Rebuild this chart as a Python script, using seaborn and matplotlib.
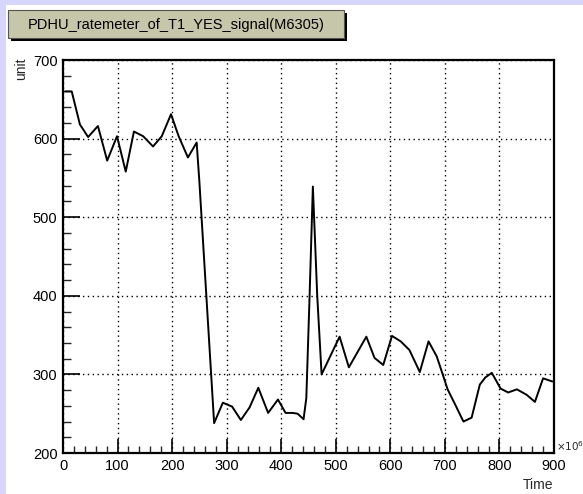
import matplotlib
matplotlib.use("Agg")
import matplotlib.pyplot as plt
from matplotlib.patches import Rectangle
from matplotlib.ticker import MultipleLocator
import seaborn as sns
import pandas as pd

# Rate-meter readings: time (x10^6) and counts (unit)
time_vals = [4, 16, 31, 46, 64, 81, 99, 115, 130, 147, 165, 181, 198, 212, 229,
             245, 250, 277, 293, 310, 326, 342, 358, 376, 394, 408, 421, 430,
             441, 446, 452, 458, 466, 474, 507, 524, 556, 571, 587, 603, 619,
             635, 654, 670, 685, 696, 705, 720, 734, 749, 764, 774, 786, 802,
             816, 832, 850, 865, 880, 897]
rate_vals = [660, 660, 618, 602, 616, 572, 603, 558, 609, 603, 590, 603, 631, 603, 576,
             595, 545, 238, 264, 259, 242, 258, 283, 251, 268, 251, 251, 250,
             243, 270, 400, 539, 400, 300, 348, 309, 348, 321, 312, 349, 342,
             331, 303, 342, 323, 300, 281, 260, 240, 245, 287, 296, 302, 282,
             277, 281, 274, 265, 295, 291]

title_text = "PDHU_ratemeter_of_T1_YES_signal(M6305)"
x_label = "Time"
y_label = "unit"
x_ticks = [0, 100, 200, 300, 400, 500, 600, 700, 800, 900]
y_ticks = [200, 300, 400, 500, 600, 700]

df = pd.DataFrame({"time": time_vals, "rate": rate_vals})

sns.set_style("ticks")
plt.rcParams["font.family"] = ["Liberation Sans", "DejaVu Sans"]

W, H = 583, 494
fig = plt.figure(figsize=(W / 100, H / 100), dpi=100)
fig.patch.set_facecolor("#d6d6fa")

def px(x0, y0, w, h):
    """Convert a pixel box (top-left origin) to figure fractions."""
    return (x0 / W, 1 - (y0 + h) / H, w / W, h / H)

# white canvas pad
fig.add_artist(Rectangle((6 / W, 0), (W - 6) / W, (H - 5) / H,
                         transform=fig.transFigure, facecolor="white",
                         edgecolor="none", zorder=0))

# title box with drop shadow
bx, by, bw, bh = 8, 10, 336, 28
sx, sy, _, _ = px(bx + 3, by + 3, bw, bh)
fig.add_artist(Rectangle((sx, sy), bw / W, bh / H, transform=fig.transFigure,
                         facecolor="black", edgecolor="none", zorder=1))
tx, ty, _, _ = px(bx, by, bw, bh)
fig.add_artist(Rectangle((tx, ty), bw / W, bh / H, transform=fig.transFigure,
                         facecolor="#c6c6aa", edgecolor="#555555", linewidth=0.8,
                         zorder=2))
fig.text((bx + bw / 2) / W, 1 - (by + bh / 2 + 1) / H, title_text,
         ha="center", va="center", fontsize=10.5, color="black", zorder=3)

# plotting frame
ax_l, ax_r, ax_t, ax_b = 63, 554, 60, 453
ax = fig.add_axes([ax_l / W, 1 - ax_b / H, (ax_r - ax_l) / W, (ax_b - ax_t) / H])
ax.set_facecolor("white")

sns.lineplot(data=df, x="time", y="rate", ax=ax, color="black", linewidth=1.4,
             sort=False, estimator=None)

ax.set_xlim(0, 900)
ax.set_ylim(200, 700)
ax.set_xticks(x_ticks)
ax.set_yticks(y_ticks)
ax.xaxis.set_minor_locator(MultipleLocator(20))
ax.yaxis.set_minor_locator(MultipleLocator(20))
ax.tick_params(axis="both", which="major", direction="in", length=12, width=1.2,
               labelsize=10.5, colors="black", pad=4)
ax.tick_params(axis="both", which="minor", direction="in", length=6, width=1.0)
ax.tick_params(axis="x", which="major", length=10)
ax.tick_params(axis="x", which="minor", length=5)
ax.tick_params(top=False, right=False, which="both")
ax.grid(True, which="major", color="black", linestyle=(0, (1, 2.5)), linewidth=1.0)
for s in ax.spines.values():
    s.set_visible(True)
    s.set_linewidth(1.6)
    s.set_color("black")
ax.set_xlabel("")
ax.set_ylabel("")

# axis titles and exponent
fig.text(21 / W, 1 - 57 / H, y_label, rotation=90, ha="center", va="top", fontsize=10)
fig.text(553 / W, 1 - 492 / H, x_label, ha="right", va="bottom", fontsize=10)
fig.text(556 / W, 1 - 453 / H, r"$\times10^{6}$", ha="left", va="bottom",
         fontsize=7.5, math_fontfamily="dejavusans")

fig.savefig("out.png", dpi=100, facecolor=fig.get_facecolor())
